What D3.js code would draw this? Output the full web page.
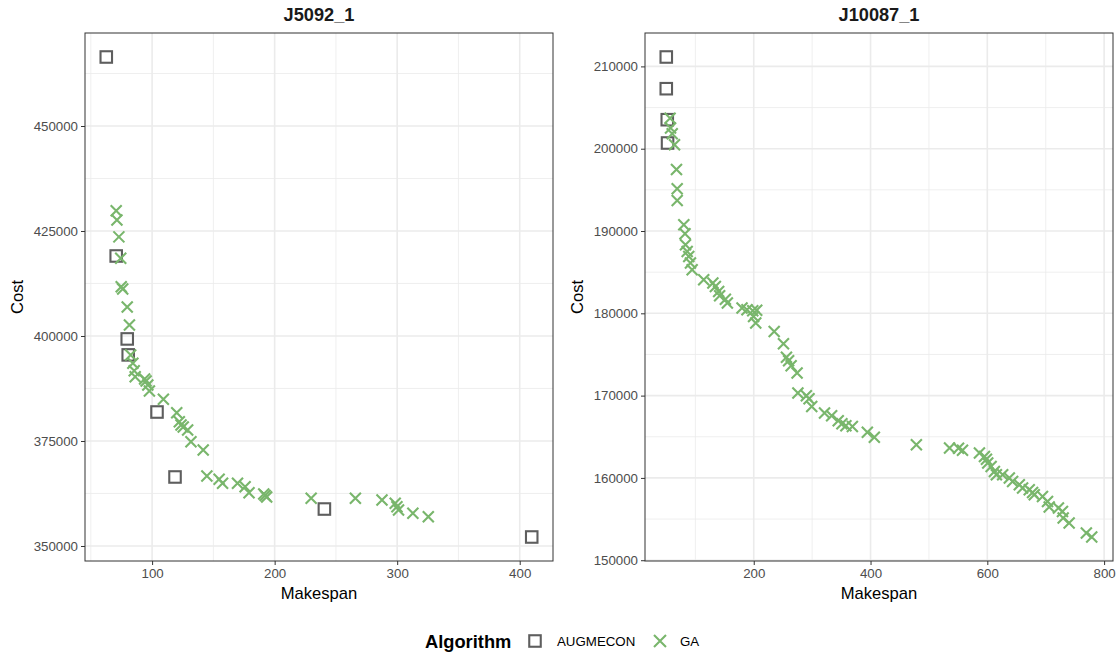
<!DOCTYPE html>
<html><head><meta charset="utf-8">
<script src="https://cdn.jsdelivr.net/npm/d3@7"></script>
<style>html,body{margin:0;padding:0;background:#fff}svg{display:block;font-family:"Liberation Sans",Arial,Helvetica,sans-serif}</style>
</head><body>
<svg id="chart" width="1120" height="656"></svg>
<script>
// ---- Data ----
const panels = ["J5092_1", "J10087_1"];
const algorithms = ["AUGMECON", "GA"];

const j5092Augmecon = [
  [62.6,466430],[70.7,419050],[79.7,399300],[80.5,395500],[104.0,381900],
  [118.7,366430],[240.6,358800],[409.8,352140]
];
const j5092GA = [
  [70.7,429800],[71.3,427600],[72.9,423600],[74.4,418500],[74.8,411700],[76.0,411200],
  [79.7,406900],[81.5,402600],[82.5,395500],[84.3,393500],[85.4,391700],[86.2,390300],
  [93.9,389760],[95.1,389290],[96.5,388330],[97.8,386900],[109.2,384930],[120.1,381740],
  [122.2,379600],[123.6,378810],[125.4,378330],[129.0,377620],[131.7,374830],[141.7,372860],
  [144.7,366670],[154.7,365880],[157.5,364930],[169.7,364930],[175.9,364120],[179.1,362690],
  [191.1,362380],[192.3,362020],[193.5,361670],[229.8,361360],[265.9,361360],[287.6,360950],
  [298.4,360170],[299.8,359360],[301.1,358570],[312.8,357790],[325.4,356980]
];
const j10087Augmecon = [
  [50.2,211142],[50.2,207290],[51.9,203524],[52.4,200693]
];
const j10087GA = [
  [56.7,203706],[57.5,202515],[60.4,201822],[64.3,200486],[67.7,197485],[68.9,195140],
  [68.9,193706],[80.2,190766],[82.3,189672],[83.1,188336],[86.0,187522],[88.7,186914],
  [91.6,186113],[94.5,185298],[114.3,184084],[130.0,183683],[134.3,183270],[139.9,182662],
  [141.6,182139],[151.4,181714],[154.8,181252],[179.9,180645],[188.4,180433],[198.3,180311],
  [205.1,180376],[199.7,179625],[203.4,178822],[235.0,177802],[250.9,176307],[256.0,174667],
  [259.7,174242],[264.0,173634],[274.2,172747],[275.6,170316],[290.1,169990],[294.7,169625],
  [299.3,168689],[321.2,167888],[333.4,167560],[344.7,166952],[351.0,166587],[357.8,166344],
  [368.9,166259],[394.5,165554],[406.5,164947],[478.5,164035],[535.3,163634],[550.7,163610],
  [557.5,163367],[586.5,163026],[595.1,162613],[598.5,162273],[600.7,161811],[606.5,161397],
  [612.1,160790],[615.5,160389],[626.3,160389],[637.7,159989],[643.3,159576],[654.8,159175],
  [660.4,158774],[671.8,158568],[677.5,158240],[680.4,157961],[694.5,157755],[703.1,157147],
  [706.0,156466],[721.8,156345],[728.7,155932],[729.9,155130],[740.1,154522],[769.6,153307],
  [778.8,152822]
];
const xTicksLeft = [100, 200, 300, 400];
const xMinorLeft = [50, 150, 250, 350];
const yTicksLeft = [350000, 375000, 400000, 425000, 450000];
const yMinorLeft = [362500, 387500, 412500, 437500, 462500];
const xTicksRight = [200, 400, 600, 800];
const xMinorRight = [100, 300, 500, 700];
const yTicksRight = [150000, 160000, 170000, 180000, 190000, 200000, 210000];
const yMinorRight = [155000, 165000, 175000, 185000, 195000, 205000];

// ---- Styles ----
const colAug = "#5e5e5e";
const colGA = "#79b66c";
const tickFont = "13.3px";
const svg = d3.select("#chart");

const panelDefs = [
  {title: panels[0], aug: j5092Augmecon, ga: j5092GA, x0: 85, x1: 553,
   xt: xTicksLeft, xm: xMinorLeft, yt: yTicksLeft, ym: yMinorLeft, ylab: 17},
  {title: panels[1], aug: j10087Augmecon, ga: j10087GA, x0: 645, x1: 1113,
   xt: xTicksRight, xm: xMinorRight, yt: yTicksRight, ym: yMinorRight, ylab: 577}
];
const pTop = 33, pBottom = 561;

function expand(ext) { const d = (ext[1] - ext[0]) * 0.05; return [ext[0] - d, ext[1] + d]; }

function drawSquare(g, cx, cy, s) {
  g.append("rect").attr("x", cx - s/2).attr("y", cy - s/2).attr("width", s).attr("height", s)
    .attr("fill", "none").attr("stroke", colAug).attr("stroke-width", 2.1);
}
function drawCross(g, cx, cy, s) {
  const h = s/2;
  g.append("path").attr("d", `M${cx-h},${cy-h}L${cx+h},${cy+h}M${cx-h},${cy+h}L${cx+h},${cy-h}`)
    .attr("stroke", colGA).attr("stroke-width", 2.1).attr("fill", "none");
}

panelDefs.forEach(p => {
  const all = p.aug.concat(p.ga);
  const x = d3.scaleLinear().domain(expand(d3.extent(all, d => d[0]))).range([p.x0, p.x1]);
  const y = d3.scaleLinear().domain(expand(d3.extent(all, d => d[1]))).range([pBottom, pTop]);
  const g = svg.append("g");

  g.append("rect").attr("x", p.x0).attr("y", pTop).attr("width", p.x1 - p.x0).attr("height", pBottom - pTop).attr("fill", "#fff");
  // minor grid
  p.xm.forEach(v => g.append("line").attr("x1", x(v)).attr("x2", x(v)).attr("y1", pTop).attr("y2", pBottom)
    .attr("stroke", "#ebebeb").attr("stroke-width", 0.8));
  p.ym.forEach(v => g.append("line").attr("y1", y(v)).attr("y2", y(v)).attr("x1", p.x0).attr("x2", p.x1)
    .attr("stroke", "#ebebeb").attr("stroke-width", 0.8));
  // major grid
  p.xt.forEach(v => g.append("line").attr("x1", x(v)).attr("x2", x(v)).attr("y1", pTop).attr("y2", pBottom)
    .attr("stroke", "#ebebeb").attr("stroke-width", 1.6));
  p.yt.forEach(v => g.append("line").attr("y1", y(v)).attr("y2", y(v)).attr("x1", p.x0).attr("x2", p.x1)
    .attr("stroke", "#ebebeb").attr("stroke-width", 1.6));

  // points
  const pts = g.append("g");
  p.aug.forEach(d => drawSquare(pts, x(d[0]), y(d[1]), 11.5));
  p.ga.forEach(d => drawCross(pts, x(d[0]), y(d[1]), 11));

  // border
  g.append("rect").attr("x", p.x0).attr("y", pTop).attr("width", p.x1 - p.x0).attr("height", pBottom - pTop)
    .attr("fill", "none").attr("stroke", "#333").attr("stroke-width", 1);

  // axes
  const xa = g.append("g").attr("transform", `translate(0,${pBottom})`)
    .call(d3.axisBottom(x).tickValues(p.xt).tickSize(4).tickPadding(4).tickFormat(d3.format("d")));
  const ya = g.append("g").attr("transform", `translate(${p.x0},0)`)
    .call(d3.axisLeft(y).tickValues(p.yt).tickSize(4).tickPadding(3).tickFormat(d3.format("d")));
  [xa, ya].forEach(a => {
    a.attr("font-size", tickFont).attr("font-family", '"Liberation Sans", Arial, sans-serif');
    a.select(".domain").remove();
    a.selectAll(".tick line").attr("stroke", "#333").attr("stroke-width", 1);
    a.selectAll(".tick text").attr("fill", "#4d4d4d").attr("font-size", tickFont).style("font-size", tickFont);
  });

  // strip title
  g.append("text").attr("x", (p.x0 + p.x1) / 2).attr("y", 20.5).attr("text-anchor", "middle")
    .style("font-size", "18.2px").style("font-weight", "bold").attr("fill", "#1a1a1a").text(p.title);
  // axis titles
  g.append("text").attr("x", (p.x0 + p.x1) / 2).attr("y", 598.5).attr("text-anchor", "middle")
    .style("font-size", "16.6px").attr("fill", "#000").text("Makespan");
  g.append("text").attr("transform", `translate(${p.ylab + 6},${(pTop + pBottom) / 2}) rotate(-90)`)
    .attr("text-anchor", "middle").style("font-size", "16.6px").attr("fill", "#000").text("Cost");
});

// legend
const lg = svg.append("g");
lg.append("text").attr("x", 425).attr("y", 648).style("font-size", "18.3px").style("font-weight", "bold")
  .attr("fill", "#000").text("Algorithm");
drawSquare(lg, 535, 641, 11.5);
lg.append("text").attr("x", 557).attr("y", 645.5).style("font-size", "13.3px").attr("fill", "#000").text(algorithms[0]);
drawCross(lg, 660, 641, 12);
lg.append("text").attr("x", 680).attr("y", 645.5).style("font-size", "13.3px").attr("fill", "#000").text(algorithms[1]);
</script>
</body></html>
